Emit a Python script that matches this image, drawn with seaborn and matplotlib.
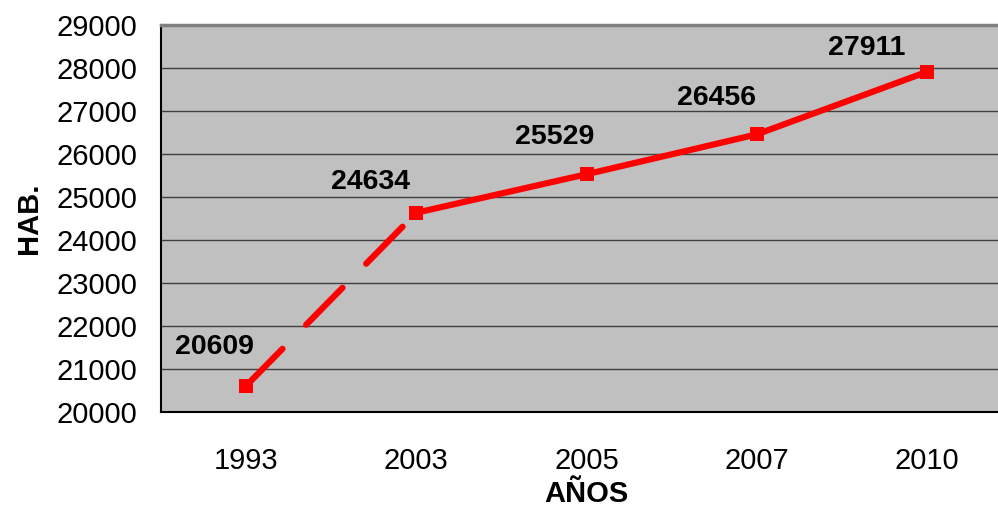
import matplotlib
matplotlib.use("Agg")
import matplotlib.pyplot as plt
import numpy as np
import pandas as pd
import seaborn as sns

# data
years = ["1993", "2003", "2005", "2007", "2010"]
habitantes = [20609, 24634, 25529, 26456, 27911]
y_ticks = list(range(20000, 29001, 1000))

# label offsets (points) from each marker
label_dx = [-23, -33, -23, -29, -43]
label_dy = [28, 22, 27, 26, 17]

RED = "#ff0000"
BG = "#c0c0c0"
FS = 21

sns.set_style("white")
plt.rcParams["font.family"] = ["Liberation Sans", "DejaVu Sans"]
plt.rcParams.update({"text.color": "black", "axes.labelcolor": "black",
                     "xtick.labelcolor": "black", "ytick.labelcolor": "black"})

df = pd.DataFrame({"pos": np.arange(len(years)), "hab": habitantes, "year": years})

fig = plt.figure(figsize=(9.98, 5.08), dpi=100)
ax = fig.add_axes([161 / 998, 96 / 508, 851 / 998, 387 / 508])
ax.set_facecolor(BG)

# first segment dashed (gap in years), remaining solid
sns.lineplot(data=df.iloc[0:2], x="pos", y="hab", ax=ax, color=RED,
             linewidth=4.5, legend=False)
ax.lines[-1].set_dashes((8.3, 5.4))
ax.lines[-1].set_dash_capstyle("round")
sns.lineplot(data=df.iloc[1:], x="pos", y="hab", ax=ax, color=RED,
             linewidth=4.5, legend=False)
ax.lines[-1].set_solid_capstyle("butt")
sns.scatterplot(data=df, x="pos", y="hab", ax=ax, color=RED, marker="s",
                s=95, linewidth=0, zorder=5, legend=False)

for i, (x, y) in enumerate(zip(df["pos"], df["hab"])):
    ax.annotate(str(y), (x, y), xytext=(label_dx[i], label_dy[i]),
                textcoords="offset points", ha="center", va="center",
                fontsize=20.5, fontweight="bold", color="black")

ax.set_xlim(-0.5, len(years) - 0.5)
ax.set_ylim(20000, 29000)
ax.set_yticks(y_ticks)
ax.set_yticklabels([str(v) for v in y_ticks], fontsize=FS)
ax.set_xticks(df["pos"])
ax.set_xticklabels(years, fontsize=FS)
ax.set_xticks(np.arange(len(years) + 1) - 0.5, minor=True)
ax.tick_params(axis="x", which="major", length=0, pad=25)
ax.tick_params(axis="x", which="minor", length=6, width=1, color="#404040",
               direction="out")
ax.tick_params(axis="y", length=6, width=1, color="#404040", direction="out",
               pad=11)
ax.yaxis.grid(True, color="#404040", linewidth=1)
ax.set_axisbelow(True)

for side in ["left", "bottom"]:
    ax.spines[side].set_color("black")
    ax.spines[side].set_linewidth(1.5)
ax.spines["top"].set_color("#808080")
ax.spines["top"].set_linewidth(2.5)
ax.spines["right"].set_visible(False)

ax.set_xlabel("AÑOS", fontsize=FS, fontweight="bold", labelpad=4)
ax.set_ylabel("HAB.", fontsize=FS, fontweight="bold", labelpad=10)

fig.savefig("out.png", dpi=100, facecolor="white")
